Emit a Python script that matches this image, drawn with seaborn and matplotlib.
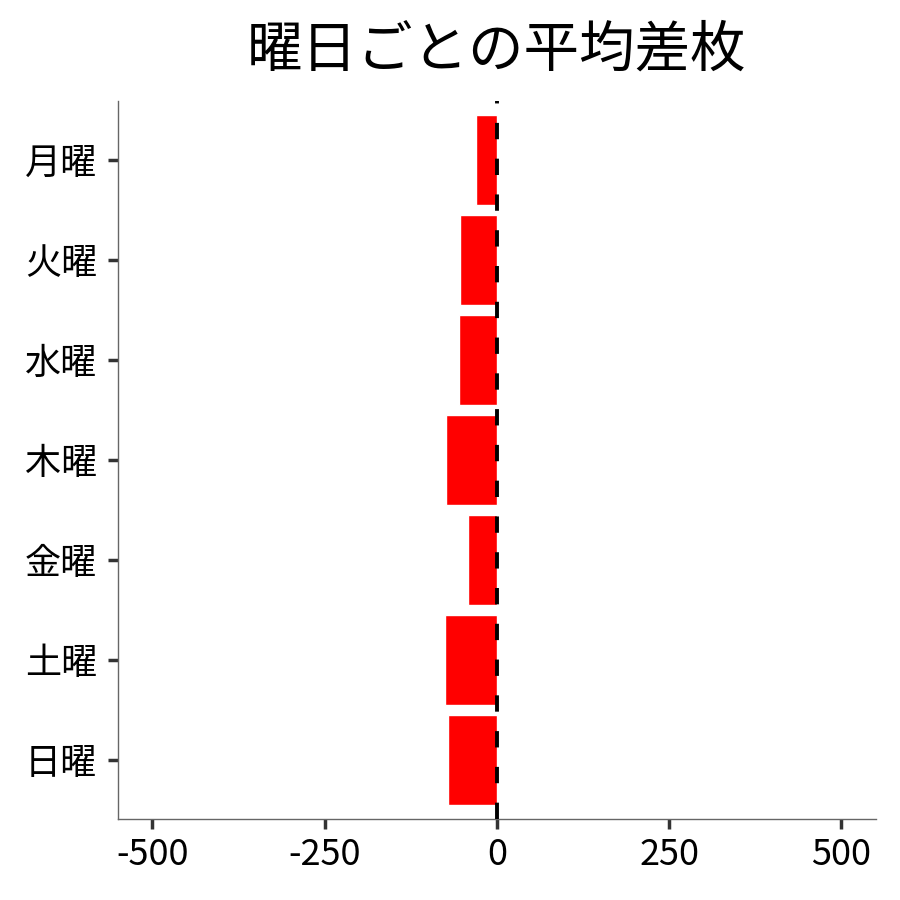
import pandas as pd
import seaborn as sns
import matplotlib.pyplot as plt

# data
days = ["月曜", "火曜", "水曜", "木曜", "金曜", "土曜", "日曜"]
avg_diff = [-30, -54, -55, -74, -42, -75, -71]
x_ticks = [-500, -250, 0, 250, 500]

df = pd.DataFrame({"day": days, "diff": avg_diff})

sns.set_theme(style="white")
plt.rcParams["font.family"] = ["Noto Sans CJK JP", "DejaVu Sans"]

fig = plt.figure(figsize=(9, 9), dpi=100)
ax = fig.add_axes([0.131, 0.09, 0.842, 0.798])

sns.barplot(
    data=df,
    x="diff",
    y="day",
    order=days,
    color="#ff0000",
    saturation=1,
    width=0.9,
    ax=ax,
)
ax.axvline(0, color="black", linewidth=2.8, linestyle=(0, (4.2, 5.0)), zorder=3)

ax.set_xlim(-550, 550)
ax.set_ylim(6.59, -0.59)
ax.set_xticks(x_ticks)
ax.set_xticklabels([str(v) for v in x_ticks])
ax.set_xlabel("")
ax.set_ylabel("")
ax.set_title("曜日ごとの平均差枚", fontsize=40, pad=25, color="black")

for side in ["top", "right"]:
    ax.spines[side].set_visible(False)
for side in ["left", "bottom"]:
    ax.spines[side].set_color("#666666")
    ax.spines[side].set_linewidth(1)

ax.tick_params(axis="both", bottom=True, left=True, length=7, width=2.5,
               color="#333333", labelsize=26, labelcolor="black")
ax.tick_params(axis="x", pad=6)
ax.tick_params(axis="y", pad=8)

plt.savefig("out.png", dpi=100)
plt.close()
